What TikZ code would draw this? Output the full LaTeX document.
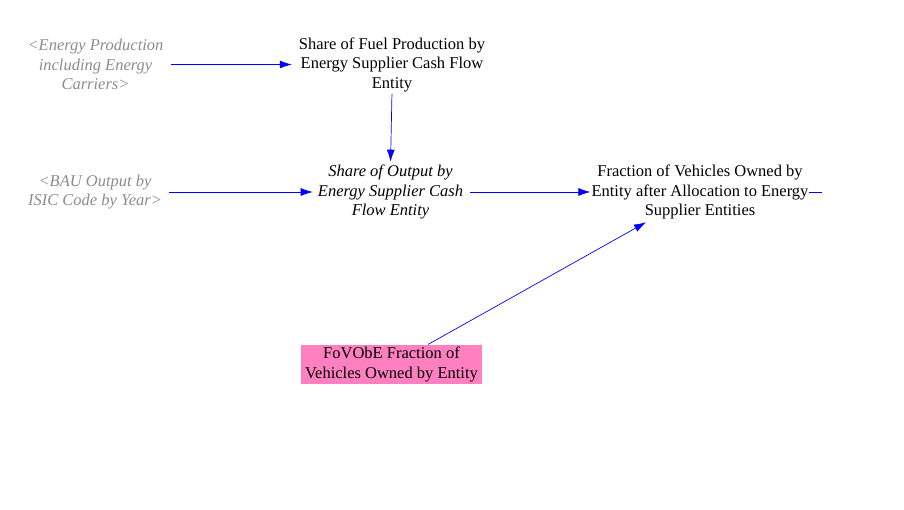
\documentclass[tikz,border=0pt]{standalone}
\usepackage{fontspec}
\setmainfont{Liberation Serif}
\usepackage{tikz}
\usetikzlibrary{arrows.meta}

\definecolor{shadowgray}{RGB}{140,140,140}
\definecolor{constpink}{RGB}{255,128,192}

\begin{document}
\begin{tikzpicture}[
x                  = 1pt,
y                  = -1pt,
every node/.style  = {font=\fontsize{16.5}{19.5}\selectfont, align=center, inner sep=0pt},
link/.style        = {draw=blue, line width=0.7pt, -{Latex[length=12pt,width=8pt]}},
shadowvar/.style   = {text=shadowgray, font=\fontsize{16.5}{19.5}\selectfont\itshape},
auxvar/.style      = {},
constvar/.style    = {fill=constpink, inner xsep=4.5pt, inner ysep=2.5pt}
]

\useasboundingbox (0,0) rectangle (904,510);

% variables
\node [shadowvar] (prod) at (95.5,64.5) {<Energy Production\\including Energy\\Carriers>};
\node [auxvar] (fuel) at (392,64.5) {Share of Fuel Production by\\Energy Supplier Cash Flow\\Entity};
\node [shadowvar] (bau) at (95,192) {<BAU Output by\\ISIC Code by Year>};
\node [auxvar, font=\fontsize{16.5}{19.5}\selectfont\itshape] (output) at (390.5,192) {Share of Output by\\Energy Supplier Cash\\Flow Entity};
\node [auxvar] (frac) at (700,192) {Fraction of Vehicles Owned by\\Entity after Allocation to Energy\\Supplier Entities};
\node [constvar] (fovobe) at (391.5,364.5) {FoVObE Fraction of\\Vehicles Owned by Entity};
\coordinate (stub) at (822,192);

% links
\draw [link, shorten <=7pt, shorten >=7pt] (prod) -- (fuel);
\draw [link, shorten <=2pt, shorten >=3pt] (fuel.south) -- (output.north);
\draw [link, shorten <=7pt, shorten >=5pt] (bau) -- (output);
\draw [link, shorten <=7pt, shorten >=1pt] (output) -- (frac);
\draw [link] ([xshift=36.5pt]fovobe.north) -- ([xshift=-54pt,yshift=-3pt]frac.south);
\draw [blue, line width=0.7pt] (frac.east) -- (stub);
\end{tikzpicture}
\end{document}
